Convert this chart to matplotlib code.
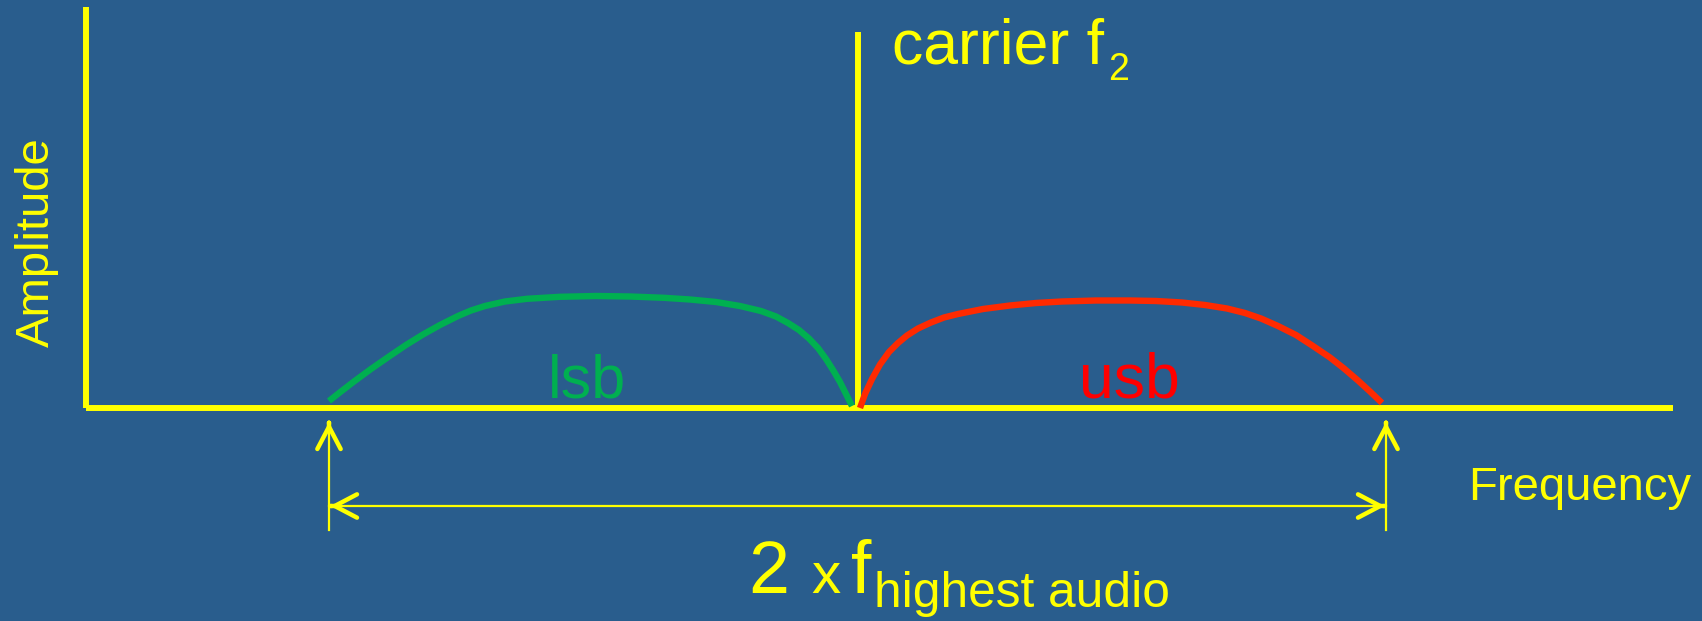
import matplotlib
matplotlib.use("Agg")
import matplotlib.pyplot as plt

plt.rcParams['font.family'] = ['Liberation Sans', 'DejaVu Sans']

# colours
bg = '#295D8D'
yellow = '#FFFF00'
green = '#00B050'
red_line = '#FF2A00'
red_text = '#FF0000'

# sideband shapes, in picture pixels (x to the right, y downward)
lsb_x = [329, 341, 354, 371, 389, 406, 423, 440, 458, 471, 485, 505, 527, 560, 596, 630,
         664, 690, 716, 740, 761, 776, 788, 799, 809, 818, 826, 833, 840, 846, 852]
lsb_y = [401, 391.5, 381.5, 369, 356.5, 345, 334.5, 325, 316, 310.5, 306, 301.5, 298.8, 296.8,
         296, 296.5, 297.8, 299.5, 302, 306, 311, 316.5, 323, 330, 338.5, 348, 359, 370, 382,
         394, 406]
usb_x = [860, 865, 872, 880, 889, 898, 907, 918, 931, 944, 958, 983, 1010, 1036, 1062, 1096,
         1130, 1156, 1182, 1205, 1227, 1245, 1261, 1278, 1296, 1313, 1330, 1344, 1358, 1370, 1382]
usb_y = [408, 394, 379, 364.5, 352, 343, 335.5, 328.5, 322.5, 317.5, 314, 309, 305.5, 303,
         301.5, 300.5, 300.5, 301, 302.5, 305, 308.5, 313, 318.5, 326, 335, 346, 357.5, 368.5,
         380.5, 391.5, 403]

# axes, carrier and band-width markers
axis_x = [86, 86]
axis_y = [7, 408]
freq_x = [86, 1673]
freq_y = [408, 408]
carrier_x = [858, 858]
carrier_y = [32, 408]
band_left, band_right = 329, 1386
marker_top, marker_bottom = 422, 530
span_y = 506

fig = plt.figure(figsize=(17.02, 6.21), dpi=100, facecolor=bg)
ax = fig.add_axes([0, 0, 1, 1])
ax.set_facecolor(bg)
ax.set_xlim(0, 1702)
ax.set_ylim(621, 0)
ax.axis('off')

ax.plot(axis_x, axis_y, color=yellow, lw=4.3, solid_capstyle='butt')
ax.plot(freq_x, freq_y, color=yellow, lw=4.3, solid_capstyle='butt')
ax.plot(carrier_x, carrier_y, color=yellow, lw=4.3, solid_capstyle='butt')

ax.plot(lsb_x, lsb_y, color=green, lw=4.6, solid_capstyle='butt', solid_joinstyle='round')
ax.plot(usb_x, usb_y, color=red_line, lw=4.6, solid_capstyle='butt', solid_joinstyle='round')

# thin shafts
ax.plot([band_left, band_left], [marker_bottom, marker_top], color=yellow, lw=1.6)
ax.plot([band_right, band_right], [marker_bottom, marker_top], color=yellow, lw=1.6)
ax.plot([band_left, band_right], [span_y, span_y], color=yellow, lw=1.6)


def head(tip, frm):
    ax.annotate('', xy=tip, xytext=frm,
                arrowprops=dict(arrowstyle='->,head_length=0.8,head_width=0.42',
                                color=yellow, lw=3.2, shrinkA=0, shrinkB=0,
                                capstyle='round', joinstyle='round', mutation_scale=20))


head((band_left, marker_top), (band_left, marker_top + 1))
head((band_right, marker_top), (band_right, marker_top + 1))
head((band_left + 1, span_y), (band_left + 2, span_y))
head((band_right - 1, span_y), (band_right - 2, span_y))

# labels
ax.text(37, 242, 'Amplitude', color=yellow, fontsize=34, rotation=90,
        ha='center', va='center')
ax.text(1468, 500, 'Frequency', color=yellow, fontsize=34, ha='left', va='baseline')
ax.text(892, 64, 'carrier f', color=yellow, fontsize=45, ha='left', va='baseline')
ax.text(1108, 80, '2', color=yellow, fontsize=27, ha='left', va='baseline')
ax.text(587, 397, 'lsb', color=green, fontsize=44, ha='center', va='baseline')
ax.text(1129, 397, 'usb', color=red_text, fontsize=45, ha='center', va='baseline')

ax.text(748, 593, '2', color=yellow, fontsize=53, ha='left', va='baseline')
ax.text(811, 593, 'x', color=yellow, fontsize=42, ha='left', va='baseline')
ax.text(851, 593, 'f', color=yellow, fontsize=53, ha='left', va='baseline')
ax.text(874, 607, 'highest audio', color=yellow, fontsize=35.7, ha='left', va='baseline')

fig.savefig('out.png', dpi=100, facecolor=bg)
